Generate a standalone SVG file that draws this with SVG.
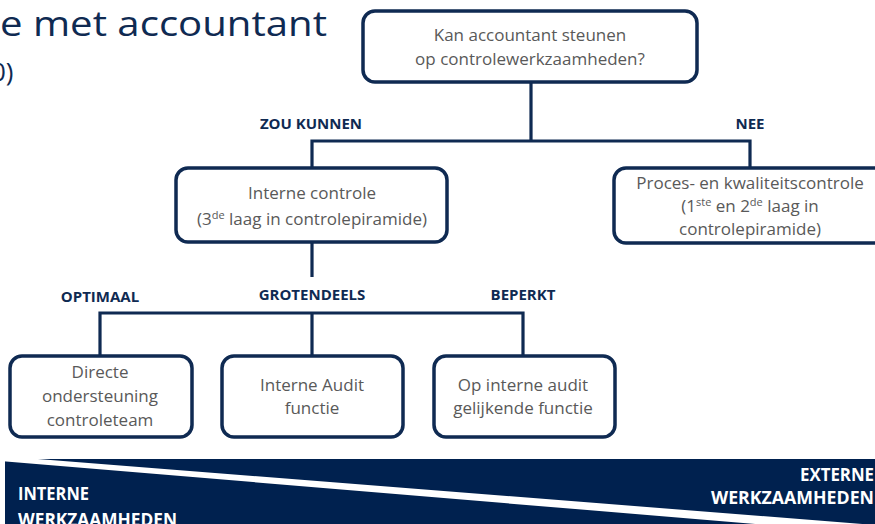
<svg xmlns="http://www.w3.org/2000/svg" width="875" height="524" viewBox="0 0 875 524">
<style>
.box{fill:#fff;stroke:#0f2a52;stroke-width:3.5}
.t{font-family:"Open Sans","Liberation Sans",sans-serif;font-size:17px;fill:#595959;text-anchor:middle}
.lbl{font-family:"Open Sans","Liberation Sans",sans-serif;font-size:15px;font-weight:bold;fill:#0f2a52;text-anchor:middle}
.con{fill:none;stroke:#0f2a52;stroke-width:3.2}
.band{font-family:"Open Sans","Liberation Sans",sans-serif;font-size:17px;font-weight:bold;fill:#fff}
.title{font-family:"Open Sans","Liberation Sans",sans-serif;fill:#0f2a52}
.sup{font-size:11px}
</style>
<rect width="875" height="524" fill="#fff"/>
<text class="title" x="0" y="36" font-size="35" textLength="327" lengthAdjust="spacingAndGlyphs">e met accountant</text>
<text class="title" x="-9" y="81" font-size="26">0)</text>
<g id="connectors">
<path class="con" d="M531,82 V141 M312,168 V141 H750 V168"/>
<path class="con" d="M312,242 V277 M100,356 V313 H523 V356 M312,313 V356"/>
</g>
<g id="labels">
<text class="lbl" x="311" y="129">ZOU KUNNEN</text>
<text class="lbl" x="750" y="129">NEE</text>
<text class="lbl" x="100" y="302">OPTIMAAL</text>
<text class="lbl" x="312" y="300">GROTENDEELS</text>
<text class="lbl" x="523" y="300">BEPERKT</text>
</g>
<g id="n-root">
<rect class="box" x="363" y="11" width="334" height="71" rx="12"/>
<text class="t" x="530" y="41">Kan accountant steunen</text>
<text class="t" x="530" y="65">op controlewerkzaamheden?</text>
</g>
<g id="n-interne-controle">
<rect class="box" x="176" y="168" width="271" height="74" rx="12"/>
<text class="t" x="312" y="199">Interne controle</text>
<text class="t" x="312" y="225">(3<tspan class="sup" dy="-6">de</tspan><tspan dy="6"> laag in controlepiramide)</tspan></text>
</g>
<g id="n-proces">
<rect class="box" x="614" y="168" width="300" height="75" rx="12"/>
<text class="t" x="750" y="189">Proces- en kwaliteitscontrole</text>
<text class="t" x="750" y="212">(1<tspan class="sup" dy="-6">ste</tspan><tspan dy="6"> en 2</tspan><tspan class="sup" dy="-6">de</tspan><tspan dy="6"> laag in</tspan></text>
<text class="t" x="750" y="235">controlepiramide)</text>
</g>
<g id="n-directe">
<rect class="box" x="10" y="356" width="182" height="81" rx="12"/>
<text class="t" x="100" y="378">Directe</text>
<text class="t" x="100" y="402">ondersteuning</text>
<text class="t" x="100" y="426">controleteam</text>
</g>
<g id="n-audit">
<rect class="box" x="222" y="356" width="181" height="81" rx="12"/>
<text class="t" x="312" y="391">Interne Audit</text>
<text class="t" x="312" y="414">functie</text>
</g>
<g id="n-gelijkend">
<rect class="box" x="434" y="356" width="181" height="81" rx="12"/>
<text class="t" x="523" y="391">Op interne audit</text>
<text class="t" x="523" y="414">gelijkende functie</text>
</g>
<g id="band">
<rect x="5" y="459" width="870" height="65" fill="#00214f"/>
<polygon points="0,456 875,525 875,534 0,461" fill="#fff"/>
<text class="band" x="18" y="500" textLength="71" lengthAdjust="spacingAndGlyphs">INTERNE</text>
<text class="band" x="18" y="526" textLength="159" lengthAdjust="spacingAndGlyphs">WERKZAAMHEDEN</text>
<text class="band" x="874" y="481" text-anchor="end" textLength="74" lengthAdjust="spacingAndGlyphs">EXTERNE</text>
<text class="band" x="874" y="504" text-anchor="end" textLength="163" lengthAdjust="spacingAndGlyphs">WERKZAAMHEDEN</text>
</g>
</svg>
